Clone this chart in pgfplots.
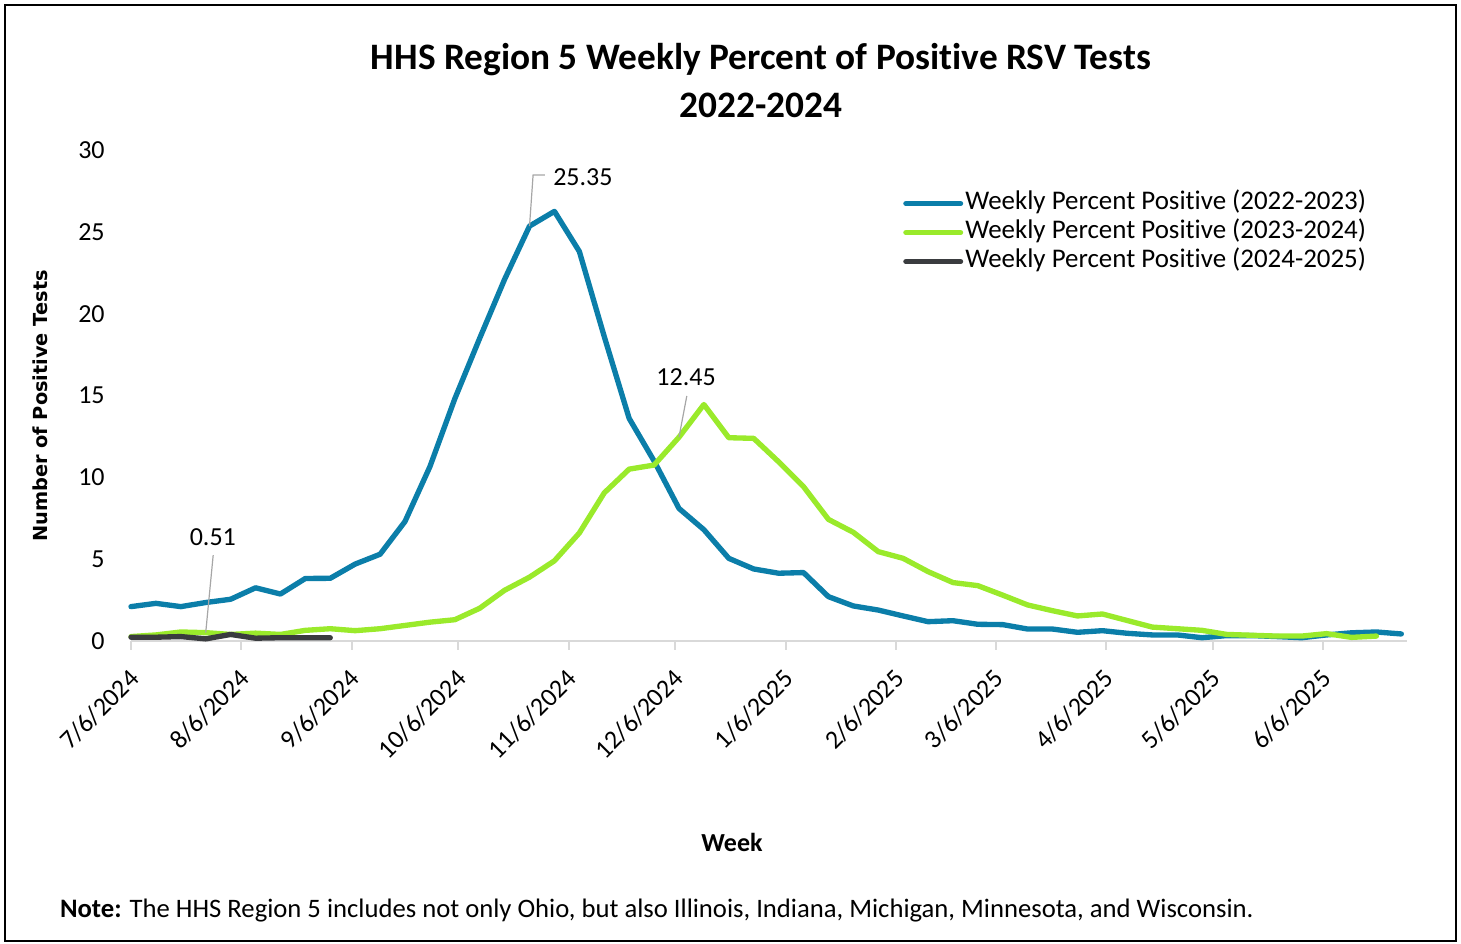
\documentclass[border=0pt]{standalone}
\usepackage{pgfplots}
\usepackage{pgfplotstable}
\pgfplotsset{compat=1.18}
\usepackage{fontspec}
\setmainfont{Carlito}[Ligatures=NoCommon]
\newfontfamily\dejavu{DejaVu Sans}
\definecolor{cblue}{HTML}{0B7EA9}
\definecolor{cgreen}{HTML}{9AEA2B}
\definecolor{cdark}{HTML}{3A3C3F}
\definecolor{caxis}{HTML}{D9D9D9}
\definecolor{clead}{HTML}{A6A6A6}
\pgfplotstableread{
k v
0 2.10
1 2.30
2 2.10
3 2.35
4 2.55
5 3.25
6 2.87
7 3.82
8 3.83
9 4.70
10 5.30
11 7.30
12 10.65
13 14.80
14 18.50
15 22.10
16 25.35
17 26.25
18 23.80
19 18.60
20 13.60
21 11.00
22 8.10
23 6.80
24 5.05
25 4.40
26 4.14
27 4.18
28 2.71
29 2.14
30 1.89
31 1.53
32 1.18
33 1.24
34 1.02
35 1.00
36 0.73
37 0.73
38 0.53
39 0.63
40 0.47
41 0.37
42 0.37
43 0.20
44 0.33
45 0.33
46 0.27
47 0.20
48 0.37
49 0.50
50 0.55
51 0.43
}\tblblue
\pgfplotstableread{
k v
0 0.27
1 0.37
2 0.55
3 0.51
4 0.40
5 0.48
6 0.40
7 0.65
8 0.75
9 0.63
10 0.75
11 0.95
12 1.15
13 1.30
14 2.00
15 3.10
16 3.90
17 4.90
18 6.60
19 9.05
20 10.50
21 10.75
22 12.45
23 14.45
24 12.42
25 12.38
26 10.95
27 9.43
28 7.43
29 6.64
30 5.46
31 5.05
32 4.24
33 3.57
34 3.38
35 2.80
36 2.20
37 1.85
38 1.53
39 1.65
40 1.25
41 0.85
42 0.75
43 0.65
44 0.40
45 0.35
46 0.30
47 0.30
48 0.45
49 0.22
50 0.30
}\tblgreen
\pgfplotstableread{
k v
0 0.23
1 0.23
2 0.27
3 0.13
4 0.40
5 0.17
6 0.20
7 0.20
8 0.20
}\tbldark
\begin{document}
\begin{tikzpicture}
\path (0pt,0pt) rectangle (1095.75pt,708pt);
\draw[line width=1.5pt] (4.1pt,703.9pt) rectangle (1092pt,2.25pt);
\node[font=\bfseries\fontsize{28}{30}\selectfont] at (570.75pt,663pt) {HHS Region 5 Weekly Percent of Positive RSV Tests};
\node[font=\bfseries\fontsize{28}{30}\selectfont] at (570.75pt,629.25pt) {2022-2024};
\node[anchor=west, font=\fontsize{20}{22}\selectfont] at (41.5pt,24.75pt) {\textbf{Note:} The HHS Region 5 includes not only Ohio, but also Illinois, Indiana, Michigan, Minnesota, and Wisconsin.};
\begin{axis}[
  at={(98.25pt,227.25pt)}, anchor=south west,
  scale only axis, width=957pt, height=368.25pt,
  xmin=0, xmax=358.6, ymin=0, ymax=30,
  axis x line*=bottom, axis y line*=left,
  y axis line style={draw=none},
  x axis line style={draw=caxis, line width=1.5pt},
  ytick={0,5,...,30}, ytick style={draw=none},
  xtick={0,31,62,92,123,153,184,215,243,274,304,335},
  xticklabels={7/6/2024,8/6/2024,9/6/2024,10/6/2024,11/6/2024,12/6/2024,1/6/2025,2/6/2025,3/6/2025,4/6/2025,5/6/2025,6/6/2025},
  xtick style={draw=caxis, line width=1.5pt},
  tick align=outside, major tick length=6.75pt,
  /pgf/number format/assume math mode=true,
  tick label style={font=\fontsize{19.5}{22}\selectfont},
  yticklabel style={xshift=-9.5pt},
  xticklabel style={xshift=5pt, yshift=-16pt, rotate=45, anchor=east},
  xlabel={Week}, ylabel={Number of Positive Tests},
  xlabel style={font=\bfseries\fontsize{19.5}{22}\selectfont, at={(axis description cs:0.471,-0.411)}, anchor=center},
  ylabel style={font=\dejavu\bfseries\fontsize{14.5}{16}\selectfont, at={(axis description cs:-0.0713,0.4786)}, anchor=center, rotate=0},
  legend style={draw=none, fill=none, at={(rel axis cs:0.605,0.921)}, anchor=north west, font=\fontsize{20.2}{22}\selectfont, inner sep=0pt, row sep=0pt, column sep=0pt, nodes={inner sep=1.5pt, text height=13.6pt, text depth=5.15pt}},
  legend cell align=left,
  legend image code/.code={\draw[#1, line cap=round] (0pt,0pt) -- (41pt,0pt);},
  clip=false,
]
\addplot[cblue, line width=4pt, line join=round, line cap=round] table[x expr=\thisrow{k}*7, y=v] {\tblblue};
\addlegendentry{Weekly Percent Positive (2022-2023)}
\addplot[cgreen, line width=4pt, line join=round, line cap=round] table[x expr=\thisrow{k}*7, y=v] {\tblgreen};
\addlegendentry{Weekly Percent Positive (2023-2024)}
\addplot[cdark, line width=4pt, line join=round, line cap=round] table[x expr=\thisrow{k}*7, y=v] {\tbldark};
\addlegendentry{Weekly Percent Positive (2024-2025)}
\draw[clead, line width=0.9pt] (axis cs:112,25.35) -- (axis cs:113,28.47) -- (axis cs:116.3,28.47);
\node[anchor=west, inner sep=0pt, font=\fontsize{19.5}{22}\selectfont] at (axis cs:118.6,28.35) {25.35};
\draw[clead, line width=0.9pt] (axis cs:154,12.45) -- (axis cs:156.2,14.97);
\node[inner sep=0pt, font=\fontsize{19.5}{22}\selectfont] at (axis cs:156,16.13) {12.45};
\draw[clead, line width=0.9pt] (axis cs:21,0.51) -- (axis cs:23.1,5.25);
\node[inner sep=0pt, font=\fontsize{19.5}{22}\selectfont] at (axis cs:23,6.35) {0.51};
\end{axis}
\end{tikzpicture}
\end{document}
